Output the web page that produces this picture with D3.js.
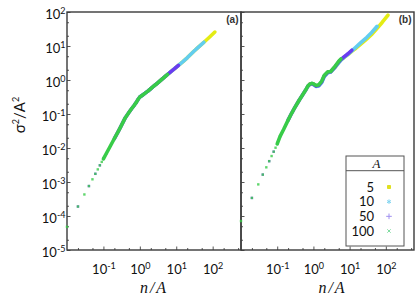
<!DOCTYPE html>
<html>
<head>
<meta charset="utf-8">
<script src="https://cdn.jsdelivr.net/npm/d3@7"></script>
<style>
body { margin: 0; background: #fff; }
svg text { font-family: Lato, "Open Sans", sans-serif; fill: #111; }
</style>
</head>
<body>
<div id="chart"></div>
<script>
// n/A sample points
var nA = [0.01, 0.02, 0.03, 0.04, 0.05, 0.06, 0.07, 0.08, 0.09, 0.1,
          0.12, 0.15, 0.2, 0.25, 0.3, 0.4, 0.5, 0.6, 0.7, 0.8,
          0.9, 1.0, 1.2, 1.4, 1.7, 2.0, 2.5, 3.0, 4.0, 5.0,
          5.75, 7, 9, 11.5, 15, 20, 30, 40, 57.5, 80, 115];

// panel (a): all A collapse on one curve
var sigA = [4.8e-5, 1.9e-4, 4.3e-4, 7.6e-4, 1.2e-3, 1.74e-3, 2.35e-3, 3.1e-3, 3.9e-3, 4.8e-3,
            6.9e-3, 0.0107, 0.019, 0.0295, 0.0425, 0.078, 0.11, 0.145, 0.18, 0.22,
            0.272, 0.316, 0.363, 0.41, 0.48, 0.56, 0.68, 0.80, 1.04, 1.27,
            1.45, 1.74, 2.15, 2.7, 3.43, 4.5, 6.9, 9.1, 12.9, 17.8, 25.7];
// last n/A reached by each A in panel (a)
var maxA = [115, 57.5, 11.5, 5.75];

// panel (b): one array per A (null = no point)
var sigB5 = [null, null, null, null, null, null, null, null, null, null,
             null, null, 0.066, null, null, 0.25, null, 0.49, null, 0.80,
             null, 0.80, 0.70, 0.72, null, 1.3, 1.68, 1.75, 2.4, 3.3,
             3.9, 4.6, 5.6, 7.0, 8.6, 11.2, 16.2, 21.5, 33, 50, 81];
var sigB10 = [null, null, null, null, null, null, null, null, null, 0.0132,
              null, null, 0.066, null, 0.148, 0.25, 0.36, 0.49, 0.64, 0.73,
              0.76, 0.73, 0.65, 0.67, 0.84, 1.26, 1.64, 1.72, 2.38, 3.2,
              3.8, 4.6, 5.7, 7.2, 9.3, 12.3, 18, 24.5, 38, null, null];
var sigB50 = [null, 3.4e-4, null, 1.65e-3, null, 4.1e-3, null, 7.8e-3, null, 0.0132,
              0.022, null, 0.066, 0.105, 0.148, 0.25, 0.36, 0.49, 0.65, 0.75,
              0.78, 0.75, 0.66, 0.69, 0.88, 1.32, 1.70, 1.74, 2.45, 3.38,
              4.0, 4.8, 5.9, 7.5, null, null, null, null, null, null, null];
var sigB100 = [7.1e-5, 3.4e-4, 8.5e-4, 1.65e-3, 2.7e-3, 4.1e-3, 5.8e-3, 7.8e-3, 0.0102, 0.0132,
               0.022, 0.035, 0.066, 0.105, 0.148, 0.25, 0.36, 0.49, 0.66, 0.76,
               0.80, 0.77, 0.69, 0.72, 0.93, 1.38, 1.74, 1.78, 2.57, 3.55,
               4.17, null, null, null, null, null, null, null, null, null, null];

var seriesA = [5, 10, 50, 100];
var colors = ["#e4ec14", "#62cdf0", "#6a3cf0", "#38cc48"];
var legendColors = ["#e0e020", "#80d4f0", "#a090f0", "#80dca0"];

var xMajor = [0.1, 1, 10, 100];
var xMinor = [0.02, 0.05, 0.2, 0.5, 2, 5, 20, 50, 200, 500];
var yMajor = [1e-5, 1e-4, 1e-3, 1e-2, 1e-1, 1, 10, 100];
var yMinor = [2e-5, 5e-5, 2e-4, 5e-4, 2e-3, 5e-3, 0.02, 0.05, 0.2, 0.5, 2, 5, 20, 50];

var W = 415, H = 307;
var top_ = 12, bottom = 250;

var svg = d3.select("#chart").append("svg")
    .attr("width", W)
    .attr("height", H);

var y = d3.scaleLog().domain([1e-5, 100]).range([bottom, top_]);
var xa = d3.scaleLog().domain([0.01, 600]).range([67, 241]);
var xb = d3.scaleLog().domain([0.01, 600]).range([241, 414]);

var symTimes = d3.symbolTimes || d3.symbolX || d3.symbolCross;
var symbols = [d3.symbolSquare, d3.symbolAsterisk || d3.symbolStar, d3.symbolPlus || d3.symbolCross, symTimes];
var symSize = [9, 14, 12, 9];

function expLabel(sel, d) {
    sel.text(null);
    sel.append("tspan").text("10");
    sel.append("tspan")
        .attr("dy", -5)
        .attr("font-size", 9)
        .text(Math.round(Math.log10(d)));
}

function styleAxis(g) {
    g.select(".domain").remove();
    g.selectAll(".tick line").attr("stroke", "#555").attr("stroke-width", 1);
    g.attr("font-family", null).attr("font-size", 13);
}

function panel(xs, withY, label) {
    var g = svg.append("g");

    // x ticks, pointing inward
    g.append("g")
        .attr("transform", "translate(0," + bottom + ")")
        .call(d3.axisBottom(xs).tickValues(xMinor).tickSize(-2).tickFormat(""))
        .call(styleAxis);

    g.append("g")
        .attr("transform", "translate(0," + bottom + ")")
        .call(d3.axisBottom(xs).tickValues(xMajor).tickSize(-3.5).tickFormat(""))
        .call(styleAxis)
        .selectAll(".tick text")
        .attr("dy", null)
        .attr("y", 24)
        .each(function(d) { expLabel(d3.select(this), d); });

    // y ticks
    var x0 = xs.range()[0];
    g.append("g")
        .attr("transform", "translate(" + x0 + ",0)")
        .call(d3.axisLeft(y).tickValues(yMinor).tickSize(-2).tickFormat(""))
        .call(styleAxis);

    var ya = g.append("g")
        .attr("transform", "translate(" + x0 + ",0)")
        .call(d3.axisLeft(y).tickValues(yMajor).tickSize(-3.5).tickPadding(1.5).tickFormat(""))
        .call(styleAxis);

    if (withY) {
        ya.selectAll(".tick text")
            .attr("dy", null)
            .attr("y", 6)
            .each(function(d) { expLabel(d3.select(this), d); });
    }

    // frame
    g.append("rect")
        .attr("x", x0)
        .attr("y", top_)
        .attr("width", xs.range()[1] - x0)
        .attr("height", bottom - top_)
        .attr("fill", "none")
        .attr("stroke", "#3a3a3a")
        .attr("stroke-width", 1.4);

    g.append("text")
        .attr("x", xs.range()[1] - 2.5)
        .attr("y", 22.5)
        .attr("text-anchor", "end")
        .attr("font-size", 10)
        .attr("font-weight", "bold")
        .style("font-family", "'Liberation Sans', Arial, sans-serif")
        .style("fill", "#333")
        .text(label);

    g.append("text")
        .attr("x", (x0 + xs.range()[1]) / 2 + (withY ? 0 : 5))
        .attr("y", 293)
        .attr("text-anchor", "middle")
        .attr("font-size", 16)
        .attr("font-style", "italic")
        .attr("letter-spacing", 2)
        .style("font-family", "'Liberation Serif', 'DejaVu Serif', serif")
        .text("n/A");

    return g;
}

function drawSeries(g, xs, pts, i) {
    var A = seriesA[i];
    var dense = pts.filter(function(d) { return d[0] >= 10 / A - 1e-9; });
    var sparse = pts.filter(function(d) {
        return d[0] < 10 / A - 1e-9 && Math.abs(d[0] * A - Math.round(d[0] * A)) < 1e-6;
    });

    var line = d3.line()
        .x(function(d) { return xs(d[0]); })
        .y(function(d) { return y(d[1]); });

    g.append("path")
        .datum(dense)
        .attr("d", line)
        .attr("fill", "none")
        .attr("stroke", colors[i])
        .attr("stroke-width", 3.6)
        .attr("stroke-linejoin", "round")
        .attr("stroke-linecap", "round");

    // isolated early points: small dots
    g.selectAll(null)
        .data(sparse)
        .enter()
        .append("rect")
        .attr("x", function(d) { return xs(d[0]) - 1.2; })
        .attr("y", function(d) { return y(d[1]) - 1.2; })
        .attr("width", 2.4)
        .attr("height", 2.4)
        .attr("fill", colors[i])
        .attr("opacity", 0.8);
}

var ga = panel(xa, true, "(a)");
var gb = panel(xb, false, "(b)");

// panel (a) data
seriesA.forEach(function(A, i) {
    var pts = [];
    for (var j = 0; j < nA.length; j++) {
        if (nA[j] >= 1 / A - 1e-9 && nA[j] <= maxA[i] + 1e-9) pts.push([nA[j], sigA[j]]);
    }
    drawSeries(ga, xa, pts, i);
});

// panel (b) data
[sigB5, sigB10, sigB50, sigB100].forEach(function(vals, i) {
    var pts = [];
    for (var j = 0; j < nA.length; j++) {
        if (vals[j] != null) pts.push([nA[j], vals[j]]);
    }
    drawSeries(gb, xb, pts, i);
});

// y label
var yl = svg.append("text")
    .attr("transform", "translate(25,115) rotate(-90)")
    .attr("text-anchor", "middle")
    .attr("font-size", 15);
yl.append("tspan").text("σ");
yl.append("tspan").attr("dy", -6).attr("font-size", 9).text("2");
yl.append("tspan").attr("dy", 6).text("/A");
yl.append("tspan").attr("dy", -6).attr("font-size", 9).text("2");

// legend
var lg = svg.append("g");
lg.append("rect")
    .attr("x", 346).attr("y", 156)
    .attr("width", 58).attr("height", 90)
    .attr("fill", "#fff")
    .attr("stroke", "#555")
    .attr("stroke-width", 1);
lg.append("line")
    .attr("x1", 346).attr("x2", 404)
    .attr("y1", 170.7).attr("y2", 170.7)
    .attr("stroke", "#555");
lg.append("text")
    .attr("x", 376.5).attr("y", 168)
    .attr("text-anchor", "middle")
    .attr("font-size", 13)
    .attr("font-style", "italic")
    .style("font-family", "'Liberation Serif', 'DejaVu Serif', serif")
    .text("A");

var rowY = d3.scaleLinear().domain([0, 3]).range([191.7, 235.7]);
seriesA.forEach(function(A, i) {
    lg.append("text")
        .attr("x", 374)
        .attr("y", rowY(i))
        .attr("text-anchor", "end")
        .attr("font-size", 13)
        .text(A);
    lg.append("path")
        .attr("transform", "translate(389," + (rowY(i) - 4.7) + ")")
        .attr("d", d3.symbol().type(symbols[i]).size(symSize[i]))
        .attr("fill", i == 0 ? legendColors[i] : "none")
        .attr("stroke", legendColors[i])
        .attr("stroke-width", 1);
});
</script>
</body>
</html>
